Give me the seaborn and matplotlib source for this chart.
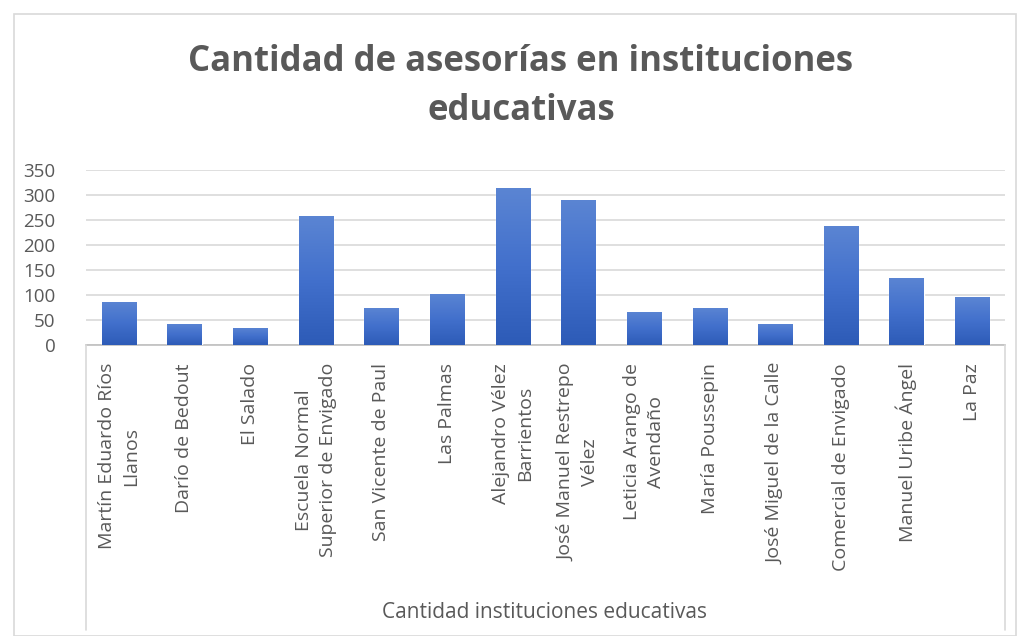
import numpy as np
import pandas as pd
import matplotlib
matplotlib.use("Agg")
import matplotlib.pyplot as plt
import seaborn as sns
from matplotlib.colors import LinearSegmentedColormap
from matplotlib.lines import Line2D
from matplotlib.patches import Rectangle

# ---- data ----
instituciones = [
    "Martín Eduardo Ríos\nLlanos", "Darío de Bedout", "El Salado",
    "Escuela Normal\nSuperior de Envigado", "San Vicente de Paul", "Las Palmas",
    "Alejandro Vélez\nBarrientos", "José Manuel Restrepo\nVélez",
    "Leticia Arango de\nAvendaño", "María Poussepin", "José Miguel de la Calle",
    "Comercial de Envigado", "Manuel Uribe Ángel", "La Paz",
]
asesorias = [87, 43, 35, 259, 75, 103, 315, 291, 67, 75, 43, 239, 135, 96]
y_ticks = [0, 50, 100, 150, 200, 250, 300, 350]

df = pd.DataFrame({"institucion": instituciones, "asesorias": asesorias})

sns.set_theme(style="white")
plt.rcParams["font.family"] = ["Open Sans", "DejaVu Sans"]
gray = "#595959"

fig = plt.figure(figsize=(10.2, 6.36), dpi=100)
ax = fig.add_axes([86 / 1020, 1 - 345 / 636, (1005 - 86) / 1020, 175 / 636])

sns.barplot(data=df, x="institucion", y="asesorias", color="#3A67C4",
            width=0.52, ax=ax, zorder=3)

# vertical gradient on each bar, like the Excel fill
cmap = LinearSegmentedColormap.from_list("bar", ["#2D5BB7", "#4270CC", "#5B85D3"])
grad = np.linspace(0, 1, 256).reshape(-1, 1)
for p in ax.patches:
    x0, y0 = p.get_x(), p.get_y()
    w, h = p.get_width(), p.get_height()
    im = ax.imshow(grad, cmap=cmap, origin="lower", aspect="auto",
                   extent=[x0, x0 + w, y0, y0 + h], zorder=4)
    im.set_clip_path(p)
ax.set_xlim(-0.5, len(instituciones) - 0.5)
ax.set_ylim(0, 350)

ax.set_yticks(y_ticks)
ax.yaxis.grid(True, color="#d9d9d9", linewidth=1.2, zorder=0)
for s in ["top", "right", "left"]:
    ax.spines[s].set_visible(False)
ax.spines["bottom"].set_color("#bfbfbf")
ax.spines["bottom"].set_linewidth(1.2)
ax.tick_params(axis="y", length=0, labelsize=13.5, labelcolor=gray, pad=22)
ax.tick_params(axis="x", length=0, labelsize=14, labelcolor=gray, pad=13)
for lab in ax.get_yticklabels():
    lab.set_horizontalalignment("right")
for lab in ax.get_xticklabels():
    lab.set_rotation(90)
    lab.set_horizontalalignment("center")
    lab.set_verticalalignment("top")
    lab.set_multialignment("center")
    lab.set_linespacing(1.45)

ax.set_ylabel("")
ax.set_xlabel("")
fig.text(545 / 1020, 1 - 613 / 636, "Cantidad instituciones educativas",
         ha="center", va="center", fontsize=15, color=gray)

fig.suptitle("Cantidad de asesorías en instituciones\neducativas",
             x=521 / 1020, y=1 - 44 / 636, fontsize=25, fontweight="bold",
             color=gray, linespacing=1.5, va="top")

# category box lines and chart frame
for xp in (86, 1005):
    fig.add_artist(Line2D([xp / 1020, xp / 1020], [1 - 345 / 636, 1 - 630 / 636],
                          transform=fig.transFigure, color="#d9d9d9", lw=1.2))
fig.add_artist(Rectangle((14 / 1020, 0), 1002 / 1020, 1 - 14 / 636,
                         transform=fig.transFigure, fill=False,
                         edgecolor="#d9d9d9", lw=1.2))

fig.savefig("out.png", dpi=100, facecolor="white")
